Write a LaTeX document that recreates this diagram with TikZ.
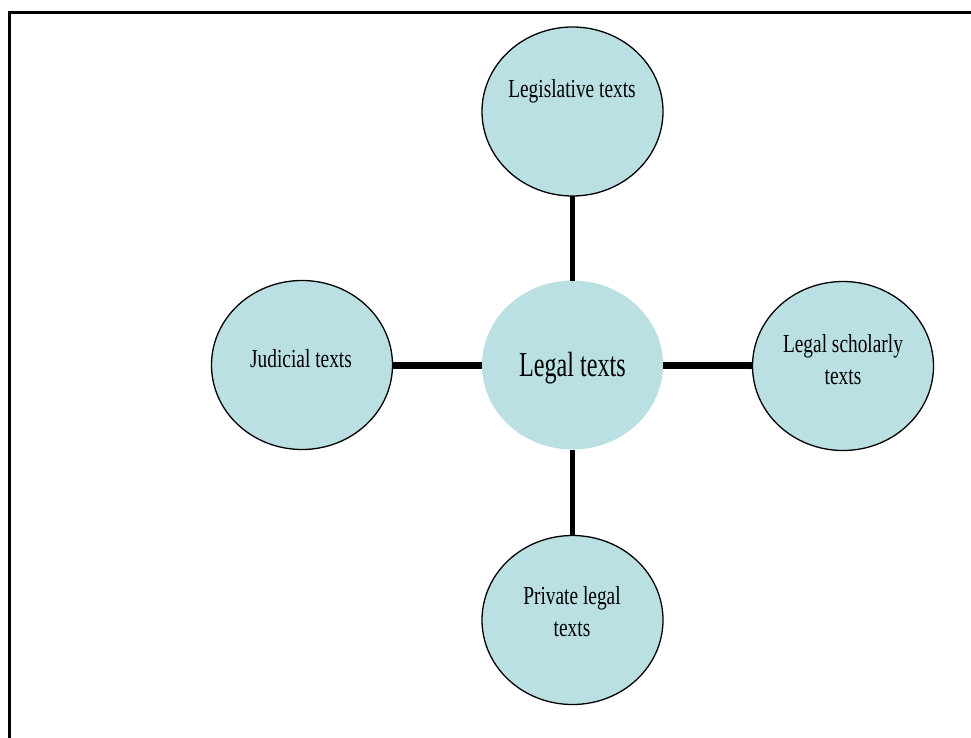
\documentclass[tikz,border=0pt]{standalone}
\usepackage{fontspec}
\setmainfont{Liberation Serif}
\newfontfamily\lblfont{Liberation Serif}[FakeStretch=0.745]
\newfontfamily\hubfont{Liberation Serif}[FakeStretch=0.69]
\usetikzlibrary{shapes.geometric}
\definecolor{bubble}{HTML}{BAE0E4}
\tikzset{
  bubblenode/.style={ellipse, fill=bubble, draw=black, line width=1.3pt,
    minimum width=181pt, minimum height=169pt, inner sep=0pt, outer sep=0pt},
  hubnode/.style={bubblenode, draw=none},
  lbl/.style={anchor=base, inner sep=0pt, font=\lblfont\fontsize{26}{32}\selectfont},
  hublbl/.style={anchor=base, inner sep=0pt, font=\hubfont\fontsize{35}{40}\selectfont},
  spoke/.style={line width=5pt, line cap=butt},
  spokeh/.style={line width=7pt, line cap=butt},
  frameline/.style={line width=3pt}
}
\newcommand{\twolines}[2]{\begin{tabular}[t]{@{}c@{}}#1\\#2\end{tabular}}
\begin{document}
\begin{tikzpicture}[x=1pt, y=-1pt]
  \useasboundingbox (0,0) rectangle (971,738);
  \clip (0,0) rectangle (971,738);
  % open frame: left and top edges only
  \draw[frameline] (9,760) -- (9,13) -- (990,13);

  % bubbles
  \node[hubnode]    (hub)   at (572.5,365) {};
  \node[bubblenode] (legis) at (572.5,111.5) {};
  \node[bubblenode] (judic) at (302,365) {};
  \node[bubblenode] (schol) at (843,366) {};
  \node[bubblenode] (priv)  at (572.5,620) {};

  % spokes
  \draw[spoke]  (legis.south) -- (hub.north);
  \draw[spoke]  (hub.south)   -- (priv.north);
  \draw[spokeh] (judic.east)  -- (hub.west);
  \draw[spokeh] (hub.east)    -- (hub.east -| schol.west);

  % labels
  \node[hublbl] (hubtxt)   at (572.5,376) {Legal texts};
  \node[lbl]    (legistxt) at (572,97.5) {Legislative texts};
  \node[lbl]    (judictxt) at (301,367) {Judicial texts};
  \node[lbl]    (scholtxt) at (843,352) {\twolines{Legal scholarly}{texts}};
  \node[lbl]    (privtxt)  at (572,604) {\twolines{Private legal}{texts}};
\end{tikzpicture}
\end{document}
